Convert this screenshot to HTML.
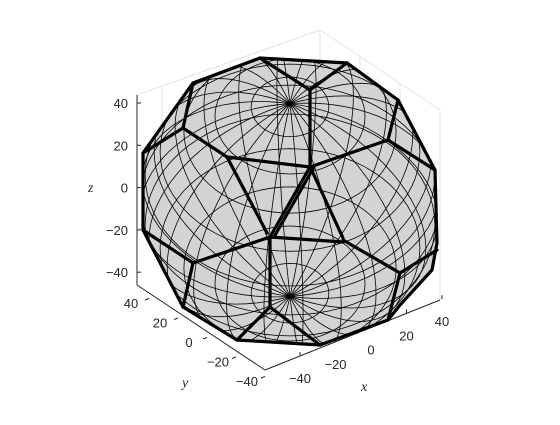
<!DOCTYPE html>
<html><head><meta charset="utf-8">
<style>
body{margin:0;background:#fff;}
svg text{font-family:"Liberation Sans",sans-serif;font-size:13px;fill:#262626;}
.lab{font-family:"Liberation Serif",serif;font-style:italic;font-size:14px;}
</style></head>
<body>
<svg id="c" width="560" height="420" viewBox="0 0 560 420" xmlns="http://www.w3.org/2000/svg">
<defs><clipPath id="clip"><polygon id="clipPoly" points=""/></clipPath></defs>
<g id="grid" stroke="#e3e3e3" stroke-width="1" fill="none">
<line x1="320" y1="30" x2="320" y2="215"/>
<line x1="137" y1="95" x2="320" y2="30"/>
<line x1="320" y1="30" x2="440" y2="110"/>
<line x1="440" y1="110" x2="440" y2="300"/>
<line x1="137" y1="95" x2="137" y2="285"/>
<line x1="162" y1="87" x2="162" y2="275"/>
<line x1="230" y1="62" x2="230" y2="250"/>
<line x1="360" y1="57" x2="360" y2="245"/>
<line x1="400" y1="83" x2="400" y2="272"/>
<line x1="137" y1="150" x2="320" y2="85"/><line x1="320" y1="85" x2="440" y2="165"/>
<line x1="137" y1="230" x2="320" y2="165"/><line x1="320" y1="165" x2="440" y2="245"/>
</g>
<g id="axes" stroke="#262626" stroke-width="1" fill="none">
<line x1="137" y1="95" x2="137" y2="285"/>
<line x1="137" y1="285" x2="265" y2="370"/>
<line x1="265" y1="370" x2="440" y2="300"/>
</g>
<g id="ticks"></g>
<polygon id="body" fill="#d3d3d3" stroke="none" points=""/>
<g id="mesh" clip-path="url(#clip)" stroke="#000" stroke-width="0.8" fill="none"></g>
<g id="edges" stroke="#000" stroke-width="3.2" stroke-linecap="round" fill="none"></g>
<polygon id="outline" fill="none" stroke="#000" stroke-width="3.2" points=""/>
<text class="lab" x="88" y="192">z</text>
<text class="lab" x="182" y="387">y</text>
<text class="lab" x="361" y="391">x</text>
</svg>
<script>
const outlinePts=[[193,83],[260,58],[347,63],[398,100],[435,170],[437,243],[432,270],[400,305],[388,320],[320,345],[237,340],[183,307],[143,230],[143,153]];
const edgeSegs=[[[260,58],[310,90]],[[347,63],[310,90]],[[310,90],[310,167]],[[193,83],[183,128]],[[183,128],[227,157]],[[183,128],[143,153]],[[227,157],[310,167]],[[310,167],[388,140]],[[388,140],[398,100]],[[388,140],[435,170]],[[227,157],[267,233]],[[310,167],[270,237]],[[314,167],[274,237]],[[313,173],[343,238]],[[343,240],[400,273]],[[400,273],[437,250]],[[400,273],[388,320]],[[270,237],[343,242]],[[270,237],[193,263]],[[193,263],[143,230]],[[193,263],[183,307]],[[270,237],[270,307]],[[270,307],[237,340]],[[270,307],[320,345]]];
const zTicks=["40","20","0","−20","−40"];
const yTicks=["40","20","0","−20","−40"];
const xTicks=["−40","−20","0","20","40"];
const svg=document.getElementById('c');
const NS="http://www.w3.org/2000/svg";
const ptsStr=outlinePts.map(p=>p.join(',')).join(' ');
document.getElementById('clipPoly').setAttribute('points',ptsStr);
document.getElementById('body').setAttribute('points',ptsStr);
document.getElementById('outline').setAttribute('points',ptsStr);
const tg=document.getElementById('ticks');
function txt(x,y,s,anchor,name){const t=document.createElementNS(NS,'text');t.setAttribute('x',x);t.setAttribute('y',y);t.setAttribute('text-anchor',anchor);t.textContent=s;


tg.appendChild(t);}
function tick(x1,y1,x2,y2){const l=document.createElementNS(NS,'line');l.setAttribute('x1',x1);l.setAttribute('y1',y1);l.setAttribute('x2',x2);l.setAttribute('y2',y2);l.setAttribute('stroke','#262626');


tg.appendChild(l);}
zTicks.forEach((s,i)=>{const y=103+i*42.3;txt(128,y+5,s,'end','z-tick-label');tick(137,y,141,y);});
yTicks.forEach((s,i)=>{const x=145+i*29,y=300+i*19.5;txt(x-14,y+8,s,'middle','y-tick-label');tick(x,y,x+4,y-1.5);});
xTicks.forEach((s,i)=>{const x=300+i*35.5,y=356-i*14.2;txt(x,y+27,s,'middle','x-tick-label');tick(x,y,x,y-4);});
const eg=document.getElementById('edges');
edgeSegs.forEach(s=>{const l=document.createElementNS(NS,'line');l.setAttribute('x1',s[0][0]);l.setAttribute('y1',s[0][1]);l.setAttribute('x2',s[1][0]);l.setAttribute('y2',s[1][1]);


eg.appendChild(l);});
const mg=document.getElementById('mesh');
const cx=290,cy=200,R=150,el=50*Math.PI/180,az=20*Math.PI/180;
function proj(th,ph){let x=Math.sin(th)*Math.cos(ph),y=Math.sin(th)*Math.sin(ph),z=Math.cos(th);
let x1=x*Math.cos(az)-y*Math.sin(az),y1=x*Math.sin(az)+y*Math.cos(az);
let yy=y1*Math.sin(el)+z*Math.cos(el);return [cx+R*x1,cy-R*yy];}
function path(pts){const p=document.createElementNS(NS,'path');p.setAttribute('d','M'+pts.map(q=>q[0].toFixed(1)+','+q[1].toFixed(1)).join('L'));


mg.appendChild(p);}
for(let k=0;k<24;k++){const ph=k*Math.PI/12;const a=[];for(let j=0;j<=40;j++)a.push(proj(j*Math.PI/40,ph));path(a);}
for(let k=1;k<12;k++){const th=k*Math.PI/12;const a=[];for(let j=0;j<=72;j++)a.push(proj(th,j*Math.PI/36));path(a);}
</script>
</body></html>
